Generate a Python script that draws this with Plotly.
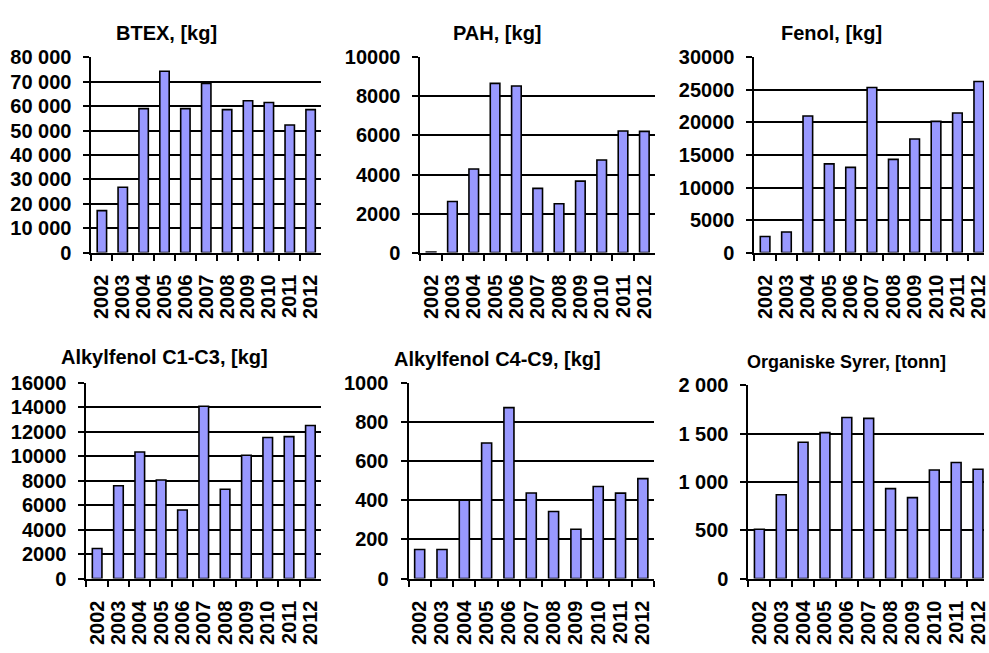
import plotly.graph_objects as go

years = ["2002", "2003", "2004", "2005", "2006", "2007", "2008", "2009", "2010", "2011", "2012"]

btex = [17200, 26800, 59000, 74300, 59000, 69300, 58600, 62200, 61500, 52300, 58600]
pah = [30, 2620, 4280, 8670, 8530, 3290, 2500, 3660, 4740, 6230, 6210]
fenol = [2470, 3160, 21000, 13640, 13100, 25360, 14330, 17450, 20170, 21450, 26300]
alk_c1c3 = [2450, 7580, 10340, 8050, 5600, 14080, 7290, 10080, 11530, 11600, 12500]
alk_c4c9 = [148, 148, 400, 692, 873, 437, 342, 252, 470, 436, 510]
org_syrer = [510, 867, 1410, 1510, 1667, 1657, 930, 837, 1123, 1200, 1130]

titles = ["BTEX, [kg]", "PAH, [kg]", "Fenol, [kg]",
          "Alkylfenol C1-C3, [kg]", "Alkylfenol C4-C9, [kg]", "Organiske Syrer, [tonn]"]
series = [btex, pah, fenol, alk_c1c3, alk_c4c9, org_syrer]
y_max = [80000, 10000, 30000, 16000, 1000, 2000]
y_step = [10000, 2000, 5000, 2000, 200, 500]
y_fmt = [",d", "d", "d", "d", "d", ",d"]

W, H = 989, 653
# plot-area pixel boxes: (left, right, top, bottom), x range end
boxes = [
    (91, 322, 48, 250, 10.5),
    (422, 658, 48, 250, 10.5),
    (758, 989, 48, 250, -0.5 + 231 / 21.5),
    (86, 322, 384.7, 587.3, 10.5),
    (410, 657, 384.7, 587.3, 10.5),
    (752, 989, 387.3, 587.3, -0.5 + 237 / 22.0),
]
title_pos = [(167, 23), (500, 23), (836, 23), (164, 358), (500, 360), (851, 363)]

FONT = "Liberation Sans, Arial, sans-serif"
fig = go.Figure()
layout = {}
annotations = []
for i, (vals, box) in enumerate(zip(series, boxes)):
    k = "" if i == 0 else str(i + 1)
    l, r, t, b, xend = box
    fig.add_trace(go.Bar(
        x=years, y=vals, xaxis="x" + k, yaxis="y" + k,
        marker=dict(color="#9999FF", line=dict(color="black", width=1.6)),
        showlegend=False, hoverinfo="x+y",
    ))
    layout["xaxis" + k] = dict(
        domain=[l / W, r / W], anchor="y" + k, type="category",
        range=[-0.5, xend], showline=True, linecolor="black", linewidth=2,
        tickmode="linear", tick0=0, dtick=1,
        ticks="outside", ticklen=6, tickwidth=2, tickcolor="black",
        tickson="boundaries", tickangle=-90, showgrid=False,
        tickfont=dict(family=FONT, size=20, color="black", weight="bold"),
        ticklabelstandoff=12, fixedrange=True,
    )
    layout["yaxis" + k] = dict(
        domain=[1 - b / H, 1 - t / H], anchor="x" + k,
        range=[0, y_max[i]], dtick=y_step[i], tick0=0, tickformat=y_fmt[i],
        showline=True, linecolor="black", linewidth=2,
        ticks="outside", ticklen=6, tickwidth=2, tickcolor="black",
        showgrid=True, gridcolor="black", gridwidth=2, zeroline=False,
        tickfont=dict(family=FONT, size=20, color="black", weight="bold"),
        ticklabelstandoff=8, fixedrange=True,
    )
    tx, ty = title_pos[i]
    annotations.append(dict(
        text=titles[i], x=tx / W, y=1 - ty / H, xref="paper", yref="paper",
        xanchor="center", yanchor="middle", showarrow=False,
        font=dict(family=FONT, size=18 if i == 5 else 20, color="black", weight="bold"),
    ))

fig.update_layout(
    width=W, height=H, margin=dict(l=0, r=0, t=0, b=0),
    paper_bgcolor="white", plot_bgcolor="white",
    separators=". ", bargap=0.55, annotations=annotations, **layout,
)
fig.write_html("out.html", config={"displayModeBar": False})
